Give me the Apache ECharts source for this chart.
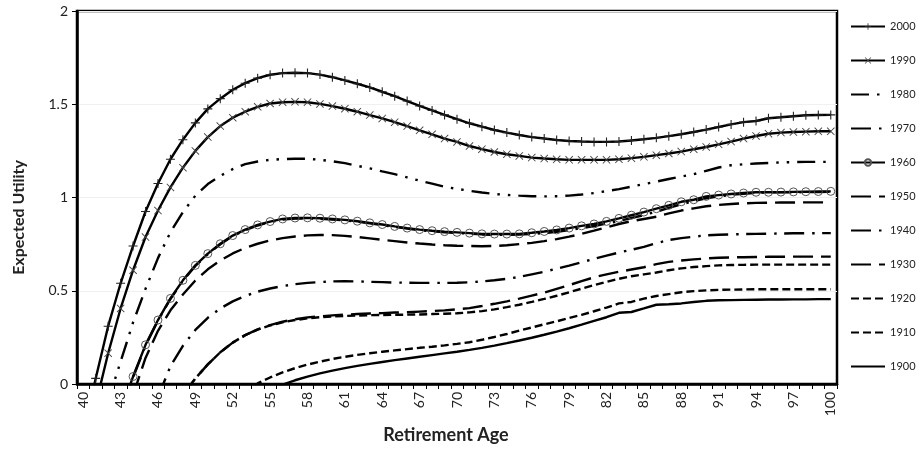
<!DOCTYPE html>
<html>
<head>
<meta charset="utf-8">
<title>Expected Utility</title>
<script src="https://cdn.jsdelivr.net/npm/echarts@6/dist/echarts.min.js"></script>
<style>
  html, body { margin: 0; padding: 0; background: #fff; }
  #chart { width: 921px; height: 449px; }
</style>
</head>
<body>
<div id="chart"></div>
<script>
// retirement ages on the x axis
const ages = [40,41,42,43,44,45,46,47,48,49,
  50,51,52,53,54,55,56,57,58,59,
  60,61,62,63,64,65,66,67,68,69,
  70,71,72,73,74,75,76,77,78,79,
  80,81,82,83,84,85,86,87,88,89,
  90,91,92,93,94,95,96,97,98,99,
  100];

const yTicks = ['0', '0.5', '1', '1.5', '2'];

// expected utility per cohort, ages 40..100 (null = not drawn)
const y2000 = [-0.27,0.03,0.31,0.54,0.74,0.925,1.075,1.205,1.31,1.40,
  1.475,1.53,1.578,1.613,1.64,1.658,1.667,1.669,1.667,1.659,
  1.645,1.628,1.61,1.59,1.567,1.543,1.517,1.491,1.467,1.443,
  1.42,1.398,1.38,1.362,1.348,1.335,1.324,1.316,1.308,1.303,
  1.30,1.298,1.298,1.30,1.306,1.312,1.32,1.329,1.339,1.351,
  1.364,1.378,1.392,1.404,1.41,1.425,1.43,1.436,1.441,1.442,
  1.443];
const y1990 = [-0.45,-0.11,0.165,0.405,0.61,0.788,0.93,1.054,1.16,1.25,
  1.324,1.383,1.428,1.46,1.486,1.504,1.511,1.513,1.511,1.502,
  1.49,1.476,1.46,1.442,1.424,1.404,1.383,1.36,1.339,1.316,
  1.298,1.276,1.259,1.244,1.232,1.223,1.214,1.209,1.205,1.202,
  1.202,1.202,1.202,1.205,1.211,1.218,1.227,1.236,1.246,1.259,
  1.271,1.285,1.30,1.316,1.33,1.342,1.348,1.351,1.353,1.355,
  1.355];
const y1980 = [null,-0.35,-0.09,0.12,0.33,0.51,0.675,0.814,0.921,1.01,
  1.072,1.116,1.152,1.179,1.193,1.202,1.206,1.208,1.208,1.202,
  1.194,1.184,1.17,1.156,1.14,1.125,1.108,1.09,1.074,1.058,
  1.046,1.036,1.027,1.019,1.014,1.01,1.007,1.006,1.007,1.01,
  1.016,1.024,1.034,1.045,1.058,1.072,1.085,1.099,1.112,1.125,
  1.143,1.161,1.173,1.178,1.182,1.185,1.188,1.19,1.191,1.191,
  1.191];
const y1970 = [null,null,null,-0.15,0.035,0.205,0.34,0.456,0.553,0.633,
  0.696,0.749,0.793,0.825,0.85,0.868,0.882,0.887,0.888,0.886,
  0.882,0.877,0.87,0.861,0.852,0.842,0.833,0.825,0.819,0.814,
  0.81,0.806,0.802,0.80,0.80,0.801,0.804,0.809,0.816,0.825,
  0.836,0.847,0.86,0.874,0.89,0.906,0.924,0.944,0.964,0.98,
  0.996,1.006,1.014,1.02,1.025,1.027,1.028,1.028,1.029,1.029,
  1.03];
const y1960 = [null,null,null,-0.15,0.04,0.21,0.343,0.459,0.556,0.636,
  0.699,0.752,0.796,0.828,0.853,0.871,0.885,0.89,0.891,0.889,
  0.885,0.88,0.873,0.864,0.855,0.845,0.836,0.828,0.822,0.817,
  0.813,0.809,0.805,0.804,0.804,0.805,0.811,0.818,0.826,0.836,
  0.848,0.858,0.872,0.888,0.905,0.922,0.94,0.958,0.977,0.988,
  1.006,1.013,1.019,1.024,1.028,1.028,1.029,1.03,1.031,1.032,
  1.033];
const y1950 = [null,null,null,null,-0.06,0.14,0.285,0.395,0.48,0.555,
  0.615,0.662,0.70,0.73,0.752,0.77,0.782,0.791,0.797,0.799,
  0.798,0.794,0.788,0.781,0.773,0.766,0.759,0.753,0.748,0.744,
  0.741,0.74,0.739,0.74,0.744,0.75,0.757,0.766,0.777,0.79,
  0.805,0.822,0.84,0.858,0.873,0.885,0.897,0.915,0.93,0.942,
  0.953,0.96,0.965,0.969,0.971,0.972,0.973,0.973,0.974,0.974,
  0.974];
const y1940 = [null,null,null,null,null,null,-0.07,0.095,0.205,0.29,
  0.355,0.405,0.443,0.472,0.495,0.512,0.525,0.535,0.542,0.547,
  0.55,0.551,0.55,0.548,0.546,0.544,0.543,0.542,0.542,0.542,
  0.543,0.545,0.55,0.556,0.564,0.574,0.588,0.602,0.618,0.635,
  0.653,0.671,0.688,0.705,0.72,0.735,0.755,0.772,0.782,0.79,
  0.797,0.80,0.802,0.804,0.805,0.806,0.807,0.808,0.808,0.809,
  0.809];
const y1930 = [null,null,null,null,null,null,null,null,-0.06,0.03,
  0.105,0.17,0.222,0.262,0.293,0.316,0.334,0.347,0.357,0.363,
  0.368,0.372,0.375,0.378,0.38,0.383,0.385,0.388,0.391,0.395,
  0.40,0.407,0.418,0.43,0.443,0.458,0.474,0.49,0.51,0.53,
  0.552,0.572,0.588,0.602,0.614,0.626,0.643,0.655,0.662,0.668,
  0.673,0.677,0.679,0.68,0.681,0.682,0.682,0.683,0.683,0.683,
  0.683];
const y1920 = [null,null,null,null,null,null,null,null,-0.06,0.03,
  0.105,0.17,0.222,0.262,0.292,0.314,0.331,0.343,0.352,0.358,
  0.362,0.365,0.367,0.369,0.37,0.371,0.372,0.373,0.375,0.377,
  0.379,0.384,0.391,0.40,0.412,0.425,0.44,0.456,0.473,0.492,
  0.511,0.53,0.548,0.564,0.578,0.588,0.598,0.61,0.62,0.627,
  0.632,0.636,0.638,0.639,0.64,0.64,0.64,0.64,0.64,0.64,
  0.64];
const y1910 = [null,null,null,null,null,null,null,null,null,null,
  null,null,null,-0.05,0.003,0.035,0.062,0.085,0.104,0.12,
  0.134,0.146,0.156,0.165,0.173,0.18,0.187,0.194,0.2,0.207,
  0.215,0.224,0.237,0.252,0.268,0.286,0.303,0.32,0.336,0.354,
  0.371,0.39,0.41,0.432,0.44,0.458,0.472,0.482,0.492,0.498,
  0.502,0.505,0.506,0.507,0.508,0.508,0.508,0.508,0.508,0.508,
  0.508];
const y1900 = [null,null,null,null,null,null,null,null,null,null,
  null,null,null,null,null,-0.04,-0.003,0.02,0.04,0.057,
  0.072,0.085,0.097,0.108,0.118,0.128,0.137,0.146,0.155,0.164,
  0.173,0.183,0.194,0.206,0.219,0.233,0.248,0.264,0.281,0.299,
  0.318,0.338,0.358,0.382,0.386,0.405,0.425,0.428,0.432,0.44,
  0.446,0.449,0.45,0.451,0.452,0.453,0.453,0.454,0.454,0.455,
  0.455];

const legendOrder = ['2000','1990','1980','1970','1960','1950','1940','1930','1920','1910','1900'];
const withMarker = ['2000','1990','1960'];

// marker shapes
const PLUS = 'path://M4.4,0H5.6V4.4H10V5.6H5.6V10H4.4V5.6H0V4.4H4.4Z';
const CROSS = 'path://M0,0.8L0.8,0L5,4.2L9.2,0L10,0.8L5.8,5L10,9.2L9.2,10L5,5.8L0.8,10L0,9.2L4.2,5Z';

// dash patterns in px
const DASH_DOT_DOT = [18, 8, 2.5, 8, 2.5, 8];
const DASH_DOT = [20, 8, 2.5, 7.5];
const LONG_DASH = [20, 8];
const SHORT_DASH = [8, 4];

function line(name, data, type, symbol, symbolSize, markStyle) {
  return {
    name: name,
    type: 'line',
    data: data,
    symbol: symbol || 'none',
    symbolSize: symbolSize || 0,
    showAllSymbol: true,
    connectNulls: false,
    lineStyle: { color: '#000', width: 2.4, type: type },
    itemStyle: markStyle || { color: '#000' },
    emphasis: { disabled: true }
  };
}

const chart = echarts.init(document.getElementById('chart'));

const option = {
  animation: false,
  backgroundColor: '#fff',
  textStyle: { fontFamily: 'Lato' },
  grid: {
    left: 77, right: 84, top: 11, bottom: 63,
    show: true, borderColor: '#000', borderWidth: 2.5
  },
  legend: {
    // no dot in the key for the plain lines
    data: legendOrder.map(function (n) {
      return withMarker.indexOf(n) >= 0 ? { name: n } : { name: n, itemStyle: { opacity: 0 } };
    }),
    orient: 'vertical',
    left: 845,
    top: 16,
    itemWidth: 34,
    itemHeight: 8,
    itemGap: 23,
    textStyle: { fontSize: 11, color: '#222', fontFamily: 'Lato' }
  },
  xAxis: {
    type: 'category',
    data: ages,
    boundaryGap: true,
    name: 'Retirement Age',
    nameLocation: 'middle',
    nameGap: 42,
    nameTextStyle: {
      fontSize: 18, fontWeight: 'bold', color: '#222', fontFamily: 'Lato',
      padding: [0, 22, 0, 0]
    },
    axisLine: { lineStyle: { color: '#000', width: 2.5 } },
    axisTick: { show: true, interval: 0, length: 5, lineStyle: { color: '#000', width: 1 } },
    axisLabel: { interval: 2, rotate: 90, fontSize: 14, color: '#222', margin: 8 },
    splitLine: { show: false }
  },
  yAxis: {
    type: 'value',
    min: 0, max: 2, interval: 0.5,
    name: 'Expected Utility',
    nameLocation: 'middle',
    nameGap: 50,
    nameTextStyle: {
      fontSize: 16, fontWeight: 'bold', color: '#222', fontFamily: 'Lato',
      padding: [0, 40, 0, 0]
    },
    axisLine: { show: true, lineStyle: { color: '#000', width: 2.5 } },
    axisTick: { show: true, length: 5, lineStyle: { color: '#000' } },
    axisLabel: {
      fontSize: 14, color: '#222', margin: 9,
      formatter: function (v) { return yTicks[Math.round(v / 0.5)]; }
    },
    splitLine: { show: true, lineStyle: { color: '#f0f0f0', width: 1 } }
  },
  series: [
    line('1900', y1900, 'solid'),
    line('1910', y1910, SHORT_DASH),
    line('1920', y1920, SHORT_DASH),
    line('1930', y1930, LONG_DASH),
    line('1940', y1940, DASH_DOT),
    line('1950', y1950, LONG_DASH),
    line('1970', y1970, DASH_DOT),
    line('1960', y1960, 'solid', 'circle', 8,
      { color: 'rgba(0,0,0,0)', borderColor: '#555', borderWidth: 1 }),
    line('1980', y1980, DASH_DOT_DOT),
    line('1990', y1990, 'solid', CROSS, 8, { color: '#444' }),
    line('2000', y2000, 'solid', PLUS, 9, { color: '#222' })
  ]
};

chart.setOption(option);
</script>
</body>
</html>
